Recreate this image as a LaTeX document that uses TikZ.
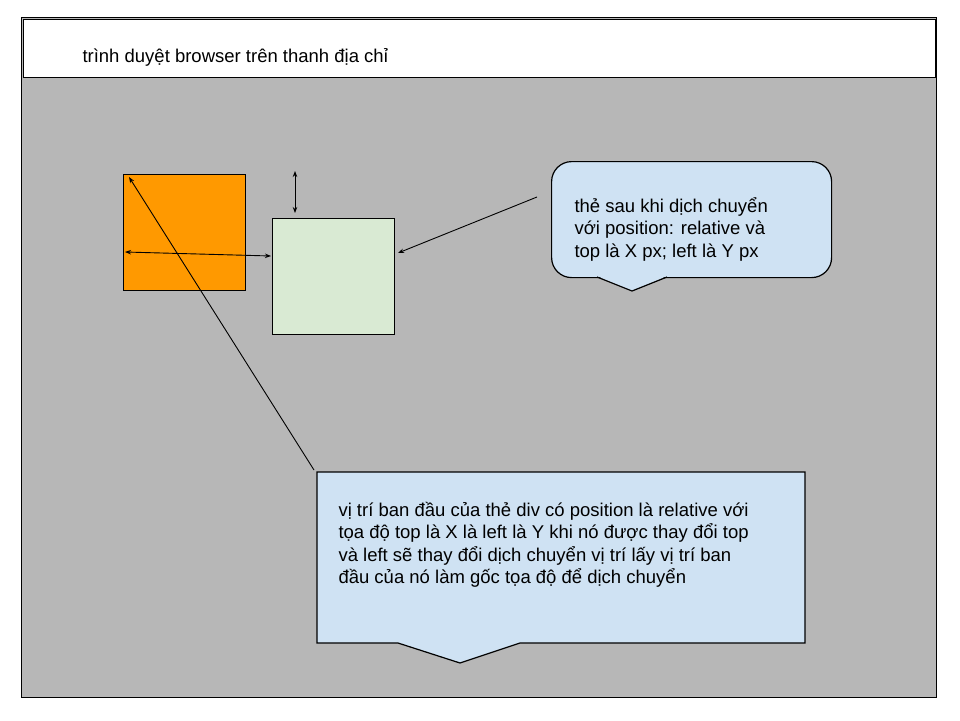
\documentclass[tikz,border=0pt]{standalone}
\usepackage{fontspec}
\setmainfont{Liberation Sans}
\usetikzlibrary{arrows.meta}
\definecolor{bggray}{HTML}{B7B7B7}
\definecolor{orangebox}{HTML}{FF9900}
\definecolor{greenbox}{HTML}{D9EAD3}
\definecolor{bluecall}{HTML}{CFE2F3}
\begin{document}
\begin{tikzpicture}[x=1pt,y=-1pt,line width=1pt,
  box/.style={draw=black,anchor=north west,inner sep=0pt,line width=1.2pt},
  txt/.style={anchor=base west,inner sep=0pt,font=\fontsize{18.5}{22.5}\selectfont},
  tip/.style={line width=0.9pt,-{Stealth[length=6pt,width=4.5pt]}},
  dtip/.style={line width=0.9pt,{Stealth[length=6pt,width=4.5pt]}-{Stealth[length=6pt,width=4.5pt]}}]
\useasboundingbox (0,0) rectangle (960,720);
\fill[white] (0,0) rectangle (960,720);
% frame and address bar
\node[box,fill=bggray,minimum width=915pt,minimum height=680pt] (frame) at (21,17) {};
\node[box,fill=white,minimum width=912pt,minimum height=58pt] (bar) at (23,19) {};
\node[txt] (title) at (82,62) {trình duyệt browser trên thanh địa chỉ};
% boxes
\node[box,fill=orangebox,minimum width=122pt,minimum height=116pt] (orange) at (123,174) {};
\node[box,fill=greenbox,minimum width=122pt,minimum height=116pt] (green) at (272,218) {};
% callout 1
\node[box,fill=bluecall,rounded corners=20pt,minimum width=280pt,minimum height=116pt] (call1) at (551,161) {};
\coordinate (p1l) at (597,277);
\coordinate (p1t) at (632,291);
\coordinate (p1r) at (667,277);
\fill[bluecall] ([yshift=1pt]p1l) -- ([yshift=1pt]p1r) -- (p1t) -- cycle;
\draw[line width=1.2pt] (p1l) -- (p1t) -- (p1r);
\node[txt] (call1text) at (574,212) {\begin{tabular}[t]{@{}l@{}}thẻ sau khi dịch chuyển\\với position: relative và\\top là X px; left là Y px\end{tabular}};
% callout 2
\coordinate (c2a) at (317,472);
\coordinate (c2b) at (805,472);
\coordinate (c2c) at (805,643);
\coordinate (c2d) at (520,643);
\coordinate (c2t) at (460,663);
\coordinate (c2e) at (398,643);
\coordinate (c2f) at (317,643);
\draw[line width=1.2pt,fill=bluecall] (c2a) -- (c2b) -- (c2c) -- (c2d) -- (c2t) -- (c2e) -- (c2f) -- cycle;
\node[txt] (call2text) at (338,516) {\begin{tabular}[t]{@{}l@{}}vị trí ban đầu của thẻ div có position là relative với\\tọa độ top là X là left là Y khi nó được thay đổi top\\và left sẽ thay đổi dịch chuyển vị trí lấy vị trí ban\\đầu của nó làm gốc tọa độ để dịch chuyển\end{tabular}};
% arrows
\coordinate (vA) at (295,171);
\coordinate (vB) at (295,213);
\draw[dtip] (vA) -- (vB);
\coordinate (hA) at (125,252);
\coordinate (hB) at (271,256);
\draw[dtip] (hA) -- (hB);
\coordinate (dS) at (314,470);
\coordinate (dE) at (129,177);
\draw[tip] (dS) -- (dE);
\coordinate (aS) at (537,197);
\coordinate (aE) at (398,253);
\draw[tip] (aS) -- (aE);
\end{tikzpicture}
\end{document}
